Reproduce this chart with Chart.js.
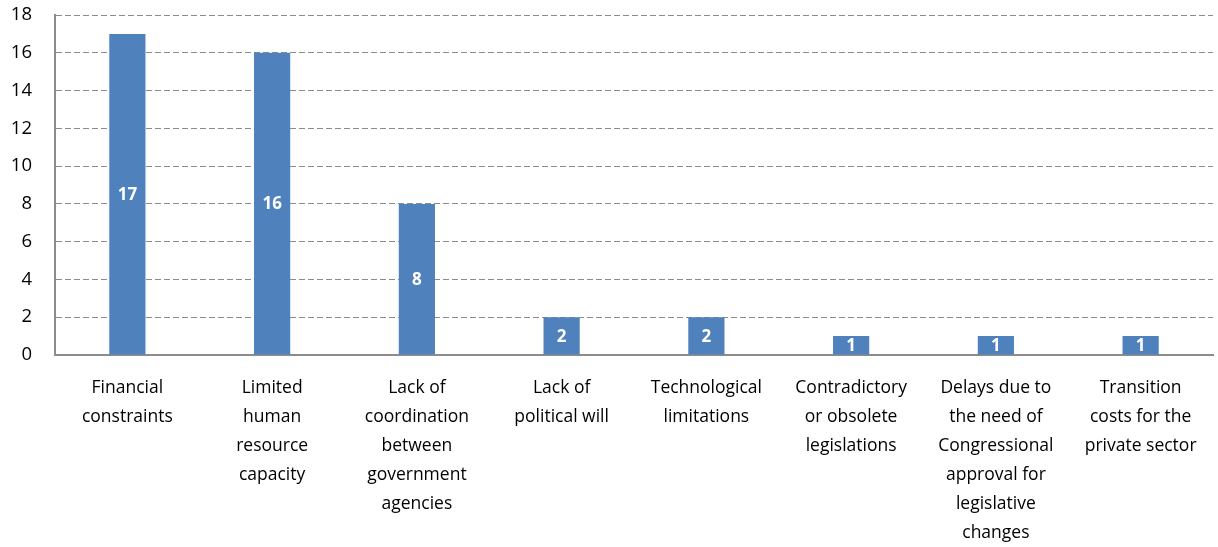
<!DOCTYPE html>
<html>
<head>
<meta charset="utf-8">
<script src="https://cdn.jsdelivr.net/npm/chart.js@4/dist/chart.umd.min.js"></script>
<style>
  html, body { margin: 0; padding: 0; background: #fff; }
  #wrap { width: 1218px; height: 547px; }
</style>
</head>
<body>
<div id="wrap"><canvas id="c"></canvas></div>
<script>
const CATEGORIES = [
  ["Financial", "constraints"],
  ["Limited", "human", "resource", "capacity"],
  ["Lack of", "coordination", "between", "government", "agencies"],
  ["Lack of", "political will"],
  ["Technological", "limitations"],
  ["Contradictory", "or obsolete", "legislations"],
  ["Delays due to", "the need of", "Congressional", "approval for", "legislative", "changes"],
  ["Transition", "costs for the", "private sector"],
]
const COUNTS = [17, 16, 8, 2, 2, 1, 1, 1]
const Y_MAX = 18
const Y_STEP = 2

const BAR_COLOR = "#4F81BD"
const GRID_COLOR = "#8c8c8c"
const FONT = "'Open Sans', 'Liberation Sans', sans-serif"

// white bold value inside the middle of each bar
const barValueLabels = {
  id: "barValueLabels",
  afterDatasetsDraw(chart) {
    const { ctx } = chart
    const meta = chart.getDatasetMeta(0)
    ctx.save()
    ctx.fillStyle = "#ffffff"
    ctx.font = `bold 17px ${FONT}`
    ctx.textAlign = "center"
    ctx.textBaseline = "middle"
    meta.data.forEach((bar, i) => {
      const mid = (bar.y + bar.base) / 2
      ctx.fillText(String(COUNTS[i]), bar.x, mid + 1)
    })
    ctx.restore()
  },
}

new Chart(document.getElementById("c"), {
  type: "bar",
  data: {
    labels: CATEGORIES,
    datasets: [
      {
        data: COUNTS,
        backgroundColor: BAR_COLOR,
        borderWidth: 0,
        barPercentage: 0.5,
        categoryPercentage: 0.5,
      },
    ],
  },
  options: {
    animation: false,
    responsive: true,
    maintainAspectRatio: false,
    devicePixelRatio: 1,
    layout: { padding: { top: 15, right: 5, left: 0, bottom: 0 } },
    plugins: {
      legend: { display: false },
      tooltip: { enabled: false },
    },
    scales: {
      x: {
        grid: { display: false, drawTicks: false },
        border: { display: true, color: GRID_COLOR, width: 2 },
        ticks: {
          color: "#000",
          font: { family: FONT, size: 17.5, lineHeight: 1.65 },
          maxRotation: 0,
          autoSkip: false,
          padding: 19,
        },
        // last label line may run to the very bottom edge, as in the source
        afterFit: (scale) => {
          scale.height = 192
        },
      },
      y: {
        min: 0,
        max: Y_MAX,
        ticks: {
          stepSize: Y_STEP,
          color: "#000",
          font: { family: FONT, size: 18.5 },
          padding: 23,
        },
        grid: {
          color: GRID_COLOR,
          drawTicks: false,
          lineWidth: 1,
        },
        // in v4 border.dash styles the grid lines; the axis line stays solid
        border: { display: true, color: GRID_COLOR, width: 2, dash: [6, 3] },
        afterFit: (scale) => {
          scale.width = 55
          scale.paddingTop = 0
          scale.paddingBottom = 0
        },
      },
    },
  },
  plugins: [barValueLabels],
})
</script>
</body>
</html>
